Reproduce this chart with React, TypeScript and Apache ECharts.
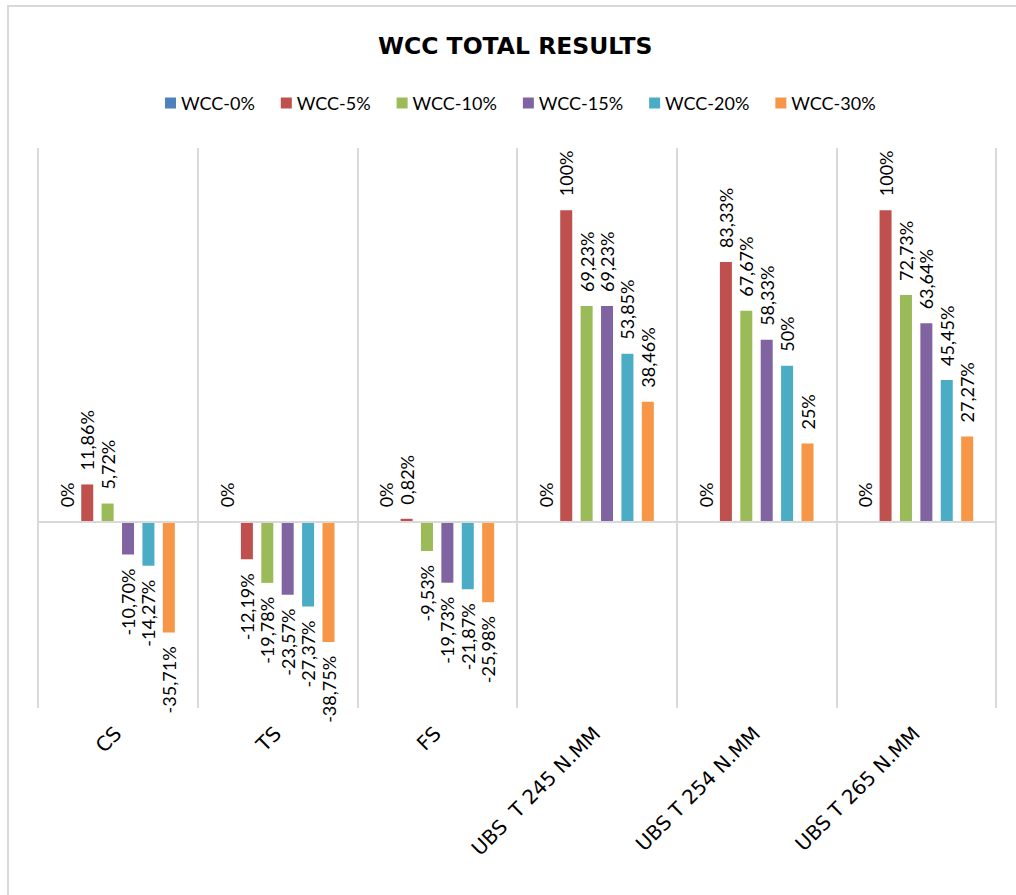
import React, { useEffect, useRef } from "react";
import * as echarts from "echarts";

const categories = ["CS", "TS", "FS", "UBS  T 245 N.MM", "UBS T 254 N.MM", "UBS T 265 N.MM"];
const seriesNames = ["WCC-0%", "WCC-5%", "WCC-10%", "WCC-15%", "WCC-20%", "WCC-30%"];
const wcc0 = [0, 0, 0, 0, 0, 0];
const wcc5 = [11.86, -12.19, 0.82, 100, 83.33, 100];
const wcc10 = [5.72, -19.78, -9.53, 69.23, 67.67, 72.73];
const wcc15 = [-10.7, -23.57, -19.73, 69.23, 58.33, 63.64];
const wcc20 = [-14.27, -27.37, -21.87, 53.85, 50, 45.45];
const wcc30 = [-35.71, -38.75, -25.98, 38.46, 25, 27.27];
const colors = ["#4F81BD", "#C0504D", "#9BBB59", "#8064A2", "#4BACC6", "#F79646"];

const FONT = "Lato, 'Noto Sans', sans-serif";
const WIDE = "'DejaVu Sans', sans-serif";

function fmt(v: number): string {
  if (Number.isInteger(v)) return v + "%";
  return v.toFixed(2).replace(".", ",") + "%";
}

export default function App() {
  const ref = useRef<HTMLDivElement>(null);
  useEffect(() => {
    document.body.style.margin = "0";
    if (!ref.current) return;
    const chart = echarts.init(ref.current, undefined, { renderer: "svg" });
    const all = [wcc0, wcc5, wcc10, wcc15, wcc20, wcc30];
    const series: any[] = all.map((vals, i) => ({
      name: seriesNames[i],
      type: "bar",
      barWidth: 12,
      barGap: "70%",
      itemStyle: { color: colors[i] },
      data: vals.map((v) => ({
        value: v,
        label: {
          position: v >= 0 ? "top" : "bottom",
          align: v >= 0 ? "left" : "right",
        },
      })),
      label: {
        show: true,
        rotate: 90,
        verticalAlign: "middle",
        distance: 14,
        color: "#000",
        fontFamily: FONT,
        fontSize: 18,
        formatter: (p: any) => fmt(p.value),
      },
      markLine:
        i === 0
          ? {
              silent: true,
              symbol: "none",
              label: { show: false },
              lineStyle: { color: "#d9d9d9", width: 2, type: "solid" },
              data: [{ yAxis: 0 }],
            }
          : undefined,
    }));
    chart.setOption({
      animation: false,
      backgroundColor: "#fff",
      title: {
        text: "WCC TOTAL RESULTS",
        left: 373,
        top: 29,
        textStyle: { fontFamily: WIDE, fontWeight: "bold", fontSize: 23.5, color: "#000" },
      },
      legend: {
        top: 89,
        left: 160,
        itemWidth: 11,
        itemHeight: 11,
        itemGap: 26,
        icon: "rect",
        textStyle: { fontFamily: FONT, fontSize: 18, color: "#000" },
        data: seriesNames,
      },
      grid: { left: 38, right: 20, top: 148, bottom: 187, containLabel: false },
      xAxis: {
        type: "category",
        data: categories,
        axisLine: { show: false, onZero: false },
        axisTick: { show: false },
        splitLine: { show: true, lineStyle: { color: "#d9d9d9", width: 2 } },
        axisLabel: {
          rotate: 45,
          margin: 22,
          color: "#000",
          fontFamily: WIDE,
          fontSize: 20,
          interval: 0,
        },
      },
      yAxis: { type: "value", min: -60, max: 120, show: false },
      graphic: [
        {
          type: "rect",
          shape: { x: 8, y: 6, width: 1100, height: 1000 },
          style: { fill: "none", stroke: "#d9d9d9", lineWidth: 2 },
          silent: true,
        },
      ],
      series,
    });
    return () => chart.dispose();
  }, []);
  return <div ref={ref} style={{ width: 1016, height: 895 }} />;
}
